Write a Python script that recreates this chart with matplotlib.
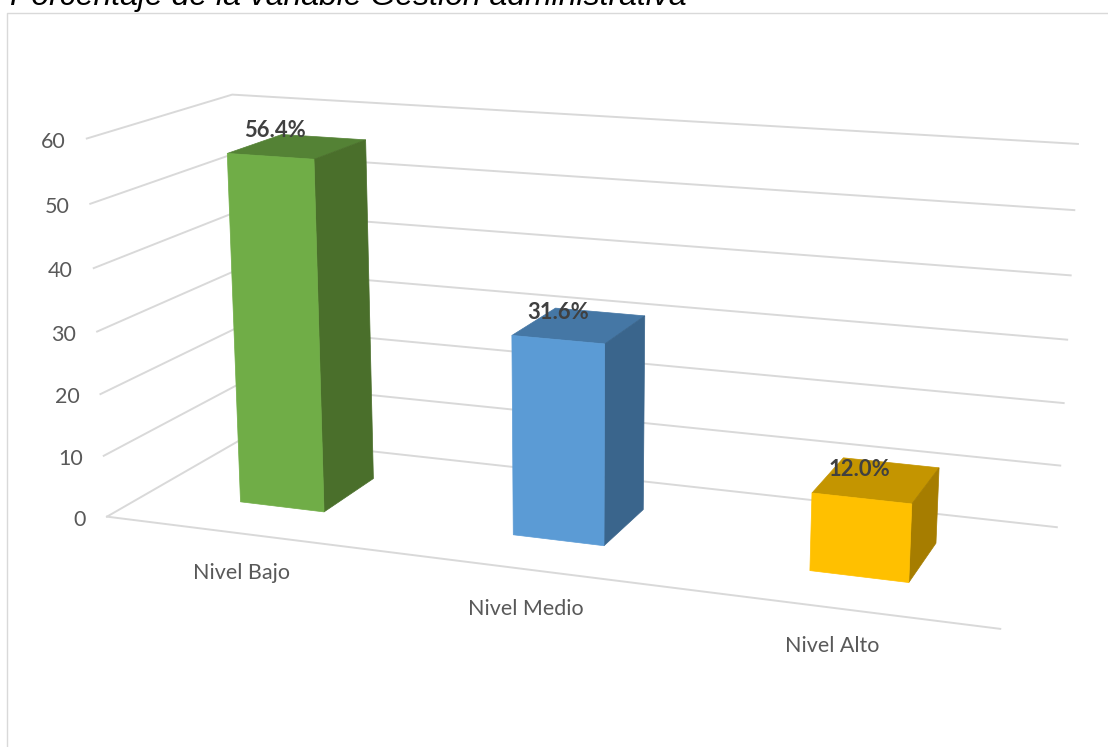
#!/usr/bin/env python

import numpy as np
import matplotlib
matplotlib.use('Agg')
import matplotlib.pyplot as plt
from matplotlib.patches import Polygon

# ----------------------------------------------------------------------
# Values
# ----------------------------------------------------------------------

categories = ['Nivel Bajo', 'Nivel Medio', 'Nivel Alto']
values = [56.4, 31.6, 12.0]
value_labels = ['56.4%', '31.6%', '12.0%']
y_ticks = [0, 10, 20, 30, 40, 50, 60]
title = 'Porcentaje de la variable Gestión administrativa'

front_colors = ['#70AD47', '#5B9BD5', '#FFC000']
top_colors = ['#548235', '#4577A5', '#C49500']
side_colors = ['#4A6F2B', '#3A658C', '#A67D00']

# ----------------------------------------------------------------------
# Camera: world (slot, depth, value) to picture pixels, fitted on corners
# ----------------------------------------------------------------------

world_pts = [(0, 0, 60), (0, 0, 0), (0, 1, 60), (0, 1, 0),
             (3, 1, 60), (3, 1, 0), (3, 0, 0)]
pixel_pts = [(87, 138), (107, 517), (232, 95), (245, 437),
             (1078, 144), (1057, 527), (1000, 629)]


def fit_camera(world, pixel):
    rows = []
    for (x, y, z), (u, v) in zip(world, pixel):
        rows.append([x, y, z, 1, 0, 0, 0, 0, -u*x, -u*y, -u*z, -u])
        rows.append([0, 0, 0, 0, x, y, z, 1, -v*x, -v*y, -v*z, -v])
    vh = np.linalg.svd(np.array(rows, dtype=float))[2]
    return vh[-1].reshape(3, 4)


cam = fit_camera(world_pts, pixel_pts)


def project(x, y, z):
    p = cam @ np.array([x, y, z, 1.0])
    return p[0]/p[2], p[1]/p[2]


def face(ax, corners, color):
    # one flat side of a bar, corners are world coordinates
    ax.add_patch(Polygon([project(*c) for c in corners], closed=True,
                         fc=color, ec=color, lw=0.5, zorder=3))


# ----------------------------------------------------------------------
# Main code
# ----------------------------------------------------------------------

fig = plt.figure(figsize=(11.08, 7.47), dpi=100)
ax = fig.add_axes([0, 0, 1, 1])
ax.set_xlim(0, 1108)
ax.set_ylim(747, 0)
ax.axis('off')

grid_c = '#D9D9D9'
ax.plot([7, 7, 1108], [747, 13, 13], c=grid_c, lw=1.0)

# the title runs off the top of the picture, as in the original
ax.text(10, 5.5, title, family='Liberation Sans', style='italic',
        fontsize=23, color='black', va='baseline', clip_on=False)

for z in y_ticks:
    pts = [project(0, 0, z), project(0, 1, z), project(3, 1, z)]
    ax.plot(*zip(*pts), c=grid_c, lw=1.4, zorder=1)
    ax.text(pts[0][0] - 21, pts[0][1] + 3, str(z), ha='right', va='center',
            family='Lato', fontsize=15.5, color='#595959')
ax.plot(*zip(project(0, 0, 0), project(3, 0, 0)), c=grid_c, lw=1.4, zorder=1)

# bar footprint inside its slot
x0, x1 = 0.345, 0.66
y0, y1 = 0.30, 0.70

label_shift = [(1, 40), (1, 40), (-2, 38)]
value_shift = [(-6.5, -4), (3, 4), (16, 12)]

for i, val in enumerate(values):
    a, b = i + x0, i + x1
    face(ax, [(a, y0, val), (b, y0, val), (b, y1, val), (a, y1, val)], top_colors[i])
    face(ax, [(b, y0, 0), (b, y1, 0), (b, y1, val), (b, y0, val)], side_colors[i])
    face(ax, [(a, y0, 0), (b, y0, 0), (b, y0, val), (a, y0, val)], front_colors[i])

    u, v = project(a, y1, val)
    ax.text(u + value_shift[i][0], v + value_shift[i][1], value_labels[i],
            ha='center', va='center', family='Lato', weight='bold',
            fontsize=15.8, color='#404040', zorder=4)

    u, v = project(i + 0.5, 0, 0)
    ax.text(u + label_shift[i][0], v + label_shift[i][1], categories[i],
            ha='center', va='center', family='Lato', fontsize=15.5,
            color='#595959')

fig.savefig('out.png', dpi=100)
plt.close()
